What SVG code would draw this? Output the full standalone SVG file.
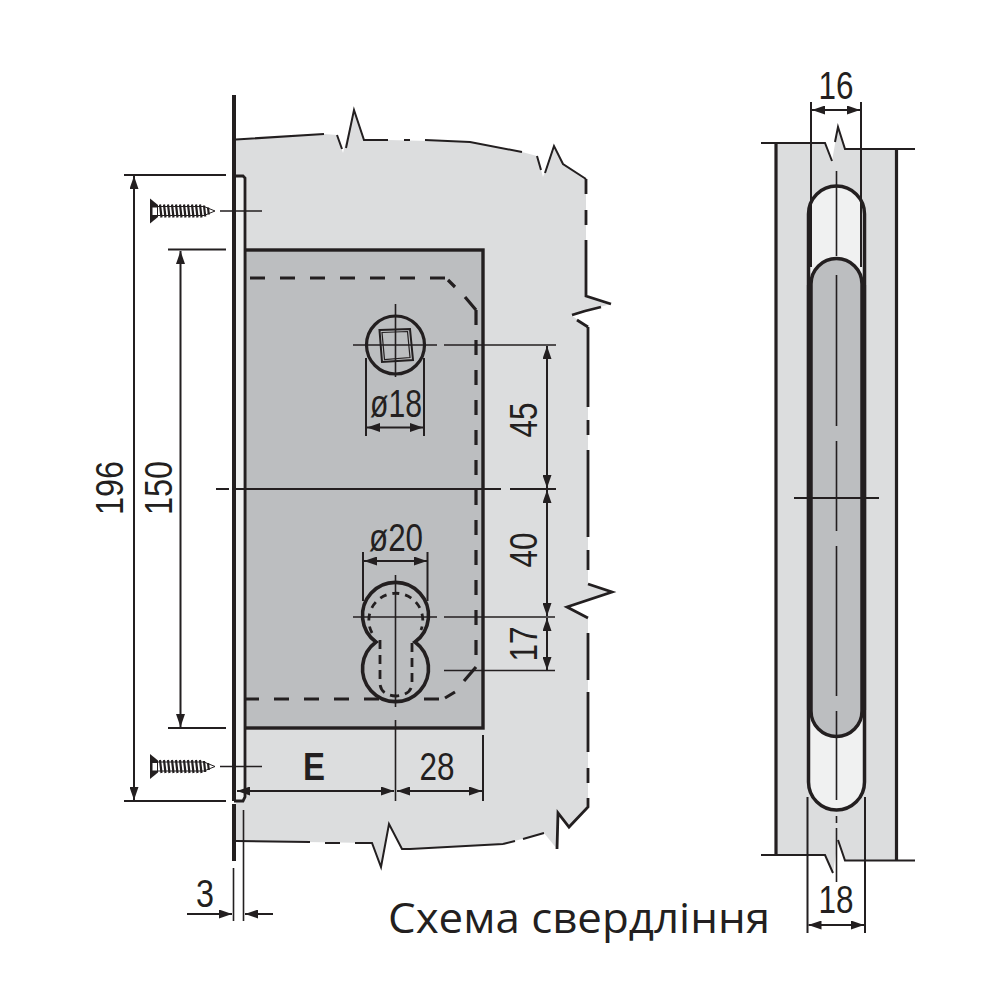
<svg xmlns="http://www.w3.org/2000/svg" width="1001" height="1001" viewBox="0 0 1001 1001">
<style>
.ln{fill:none;stroke:#231f20;stroke-linecap:butt;stroke-linejoin:miter}
.t1{stroke-width:1.6}
.t2{stroke-width:2}
.t3{stroke-width:2.8}
.t4{stroke-width:3.2}
.t5{stroke-width:4}
.dim{marker-start:url(#ar);marker-end:url(#ar)}
.tx{font-family:"Liberation Sans",Arial,sans-serif;font-size:39px;fill:#231f20;text-anchor:middle}
.cap{font-family:"Open Sans","Noto Sans",sans-serif;font-size:42px;fill:#231f20}
</style>
<defs>
<marker id="ar" viewBox="0 0 13 9" refX="13" refY="4.5" markerWidth="13" markerHeight="9" markerUnits="userSpaceOnUse" orient="auto-start-reverse"><path d="M0 0L13 4.500L0 9Z" fill="#231f20"/></marker>
<g id="screw">
<path d="M157 -4.500H204L215 0L204 4.500H157Z" fill="#fff" stroke="#231f20" stroke-width="1"/>
<path d="M150 -12.500L158 -6V6L150 12.500Z" fill="#231f20"/>
<path d="M152.500 -3.500H157V4H152.500Z" fill="#fff"/>
<path d="M160 -6.500l1.500 13M164 -6.500l1.500 13M168 -6.500l1.500 13M172 -6.500l1.500 13M176 -6.500l1.500 13M180 -6.500l1.500 13M184 -6.500l1.500 13M188 -6.500l1.500 13M192 -6.500l1.500 13M196 -6.500l1.500 13M200 -6.500l1.500 13M204 -5.500l1.200 11M208 -3.500l.8 7" fill="none" stroke="#231f20" stroke-width="2.200"/>
</g>
</defs>

<g id="wall">
<path d="M236 139L324 134L337 135L343 153L354 110L364 140L388 140L470 142L522 152L537 156L543 177L553 147L563 164L586 179V296L611 304L571 315L588 327V584L612 592L567 607L588 618V807L569 827L558 813L557 849L544 833L503 844L410 849L402 849L389 824L381 867L372 843L236 841Z" fill="#dcddde"/>
<path class="ln t2" d="M236 139.500L324 134M337 135L342 149M346 148L354 110L364 140H388M404 140H410M425 140L470 142L522 152M537 156L541 170M545 173L554 146L563 164L586 179"/>
<path class="ln t3" d="M586 179V194M586 210V225M586 240V296L611 304M601 307L585 311M585 311L572 315M577 320L588 327"/>
<path class="ln t3" d="M588 327V407M588 420V435M588 450V537M588 550V570M588 584L612 592L567 607L588 618M588 633V680M588 692V752M588 768V783M588 798V807L569 827L558 813L557 849"/>
<path class="ln t2" d="M544 833L530 837M530 837L523 839M515 841L503 844M503 844L410 849H402L389 824L381 867L372 843H355M340 843H325M310 842L236 841"/>
</g>

<g id="lock-body">
<rect x="244.500" y="250" width="238.500" height="478" fill="#bcbec0" stroke="#231f20" stroke-width="3.400"/>
<path class="ln t4" d="M250 278H265M280 278H295M310 278H325M340 278H355M370 278H385M400 278H415M430 278H445M448 280L455 287M465 297L476 310M476 310V325"/>
<path class="ln t4" d="M476 340V668" stroke-dasharray="15 15"/>
<path class="ln t4" d="M476 667L464 681M455 692L445 698M439 699H424M409 699H394M379 699H364M349 699H334M319 699H304M289 699H274M259 699H246"/>
</g>

<g id="faceplate">
<path d="M235 176H243L245 178V797L243 801H235Z" fill="#f0f1f1"/>
<path class="ln t5" d="M234 95V176M234 176V801M234 804V861"/>
<path class="ln t3" d="M234 176H243L245 178V797L243 801H234"/>
</g>

<g id="spindle-hole">
<circle cx="395.500" cy="345" r="29" fill="none" stroke="#231f20" stroke-width="3.200"/>
<path class="ln t2" d="M379.500 330L410 329L413 360L382 362Z"/>
<path d="M382 332.500L407.500 331.500L410 357.500L384.500 359.500Z" fill="none" stroke="#231f20" stroke-width="1.200"/>
<path class="ln t1" d="M353 345H437M395.500 304V377M444 345H556"/>
</g>

<g id="keyhole">
<path d="M376 642A33 33 0 1 1 415 642A33 33 0 1 1 376 642Z" fill="#bcbec0" stroke="#231f20" stroke-width="3.600"/>
<path class="ln t3" d="M372 633A27 27 0 1 1 421 630" stroke-dasharray="7 6"/>
<path class="ln t3" d="M380 640V684Q381 695 396 696Q411 695 412 684V640" stroke-dasharray="9 6"/>
<path class="ln t1" d="M353 617H437M395.500 575V707M395.500 720V801M444 617H555M444 670.500H555"/>
</g>

<g id="centerline">
<path class="ln t2" d="M216 489H229M236 489H501M510 489H556"/>
<path class="ln t1" d="M220 211H262M220 766.500H262"/>
</g>

<g id="screws">
<use href="#screw" x="0" y="211"/>
<use href="#screw" x="0" y="766.500"/>
</g>

<g id="dimensions">
<path class="ln t2" d="M124 175H226M124 801H226M168 249.500H226M168 728H226"/>
<path class="ln t2 dim" d="M134 176V800"/>
<path class="ln t2 dim" d="M180.500 251V727"/>
<path class="ln t2" d="M366 358V436M424 358V436M363 552V601M427.500 552V601"/>
<path class="ln t2 dim" d="M367 427.500H423"/>
<path class="ln t2 dim" d="M364 561H427"/>
<path class="ln t2 dim" d="M547 346V488"/>
<path class="ln t2 dim" d="M547 490V616"/>
<path class="ln t2 dim" d="M547 618V670"/>
<path class="ln t2" d="M483 735V801"/>
<path class="ln t2 dim" d="M237 791H394"/>
<path class="ln t2 dim" d="M397 791H482"/>
<path class="ln t1" d="M233.500 868V921M243.500 810V921"/>
<path class="ln t2" marker-end="url(#ar)" d="M187 914H232"/>
<path class="ln t2" marker-end="url(#ar)" d="M273 914H245"/>
</g>

<g id="side-view">
<path d="M776 143H825L832 161L838 127L845 149H896V860L845 860L838 840L833 873L825 855H776Z" fill="#dcddde"/>
<path class="ln t4" d="M776 143V855M896.500 149V860"/>
<path class="ln t2" d="M761 143H825L832 161M835 142L838 127L845 149H915M761 855H825L833 873M838 840L845 860.500H915"/>
<path d="M808.500 214A28 28 0 0 1 864.500 214V782A28 28 0 0 1 808.500 782Z" fill="#f0f1f1" stroke="#231f20" stroke-width="3.500"/>
<path d="M811 284A25.500 25.500 0 0 1 862 284V711A25.500 25.500 0 0 1 811 711Z" fill="#bcbec0" stroke="#231f20" stroke-width="3.500"/>
<path class="ln t4" d="M808.500 285V710M864.500 285V710"/>
<path class="ln t1" d="M836.500 171V256M836.500 275V426M836.500 441V531M836.500 546V696M836.500 711V800M836.500 816V823M836.500 828V882"/>
<path class="ln t2" d="M794 498H879"/>
<path class="ln t2" d="M811 102V267M861 102V267M807.500 797V933M865 797V933"/>
<path class="ln t2 dim" d="M812 110H860"/>
<path class="ln t2 dim" d="M808.500 925H864"/>
</g>

<g id="labels">
<text class="tx" transform="translate(123 488) rotate(-90)" textLength="54" lengthAdjust="spacingAndGlyphs">196</text>
<text class="tx" transform="translate(172 488) rotate(-90)" textLength="54" lengthAdjust="spacingAndGlyphs">150</text>
<text class="tx" x="396" y="416.500" textLength="52" lengthAdjust="spacingAndGlyphs">ø18</text>
<text class="tx" x="396" y="551" textLength="54" lengthAdjust="spacingAndGlyphs">ø20</text>
<text class="tx" transform="translate(537 420) rotate(-90)" textLength="35" lengthAdjust="spacingAndGlyphs">45</text>
<text class="tx" transform="translate(537 550) rotate(-90)" textLength="35" lengthAdjust="spacingAndGlyphs">40</text>
<text class="tx" transform="translate(537 644) rotate(-90)" textLength="35" lengthAdjust="spacingAndGlyphs">17</text>
<text class="tx" x="314" y="780" font-weight="700" textLength="22" lengthAdjust="spacingAndGlyphs">E</text>
<text class="tx" x="437" y="780" textLength="35" lengthAdjust="spacingAndGlyphs">28</text>
<text class="tx" x="205" y="907" textLength="18" lengthAdjust="spacingAndGlyphs">3</text>
<text class="tx" x="836" y="99" textLength="35" lengthAdjust="spacingAndGlyphs">16</text>
<text class="tx" x="836" y="913" textLength="35" lengthAdjust="spacingAndGlyphs">18</text>
<text class="cap" x="388" y="933" textLength="382" lengthAdjust="spacingAndGlyphs">Схема свердління</text>
</g>
</svg>
